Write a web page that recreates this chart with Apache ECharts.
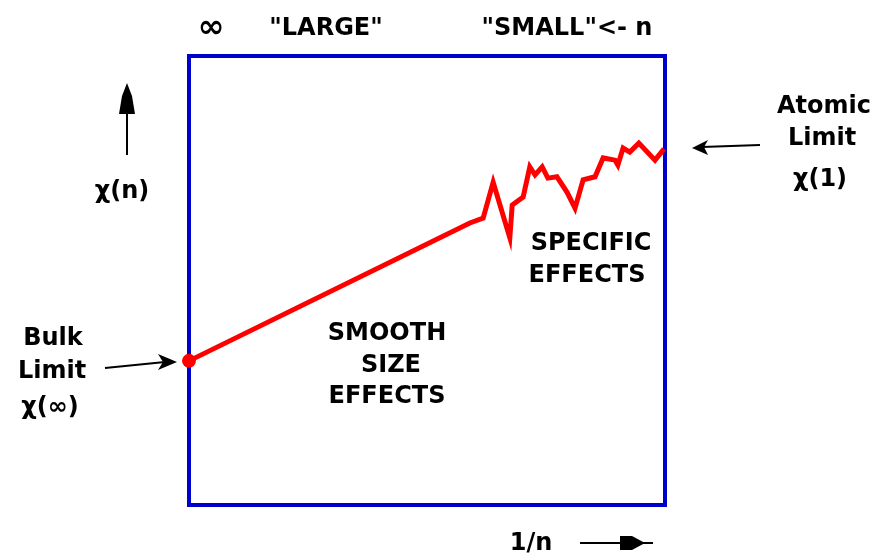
<!DOCTYPE html>
<html lang="en">
<head>
    <meta charset="UTF-8">
    <title>Size effects: bulk to atomic limit</title>
    <script src="https://cdn.jsdelivr.net/npm/echarts@6/dist/echarts.min.js"></script>
    <style>
        html,body{margin:0;padding:0;background:#fff;}
    </style>
</head>
<body>
    <div id="main" style="width:876px;height:559px;"></div>
    <script type="text/javascript">
        // 1/n (scaled 0..100) and chi(n) (scaled 0..100)
        var invN = [0, 59.0, 61.8, 63.9, 67.4, 67.9, 70.2, 71.6, 72.7, 74.2, 75.4, 77.3, 79.4, 81.1, 82.8, 85.3, 87.0, 89.5, 90.1, 91.2, 92.6, 94.5, 97.9, 99.8];
        var chi  = [32.1, 62.8, 63.9, 71.9, 59.5, 66.8, 68.6, 75.3, 73.5, 75.3, 72.8, 73.1, 69.7, 66.1, 72.4, 73.1, 77.3, 76.8, 75.7, 79.5, 78.6, 80.6, 76.8, 79.3];
        var bulkPoint = [0, 32.1];

        var BLUE = '#0000cc';
        var RED = '#ff0000';

        function label(txt, x, y, size){
            return {
                type:'text', x:x, y:y, silent:true,
                style:{text:txt, fontSize:size || 24, fontWeight:'bold', fontFamily:'"DejaVu Sans"',
                       fill:'#000', align:'center', verticalAlign:'middle',
                       textAlign:'center', textVerticalAlign:'middle'}
            };
        }
        function seg(x1, y1, x2, y2){
            return {type:'line', silent:true, shape:{x1:x1, y1:y1, x2:x2, y2:y2},
                    style:{stroke:'#000', lineWidth:2}};
        }
        function head(points){
            return {type:'polygon', silent:true, shape:{points:points}, style:{fill:'#000'}};
        }

        var lineData = [];
        for (var i = 0; i < invN.length; i++) {
            lineData.push([invN[i], chi[i]]);
        }

        var chartDom = document.getElementById('main');
        var chart = echarts.init(chartDom);
        var option = {
            backgroundColor:'#fff',
            animation:false,
            grid:{
                left:189, top:56, width:476, height:449,
                show:true, borderColor:BLUE, borderWidth:4, backgroundColor:'transparent'
            },
            xAxis:{
                type:'value', min:0, max:100,
                axisLine:{show:false}, axisTick:{show:false}, axisLabel:{show:false}, splitLine:{show:false}
            },
            yAxis:{
                type:'value', min:0, max:100,
                axisLine:{show:false}, axisTick:{show:false}, axisLabel:{show:false}, splitLine:{show:false}
            },
            series:[
                {
                    name:'chi(n)',
                    type:'line',
                    symbol:'none',
                    lineStyle:{color:RED, width:5, join:'miter'},
                    data:lineData,
                    z:3
                },
                {
                    name:'bulk limit',
                    type:'scatter',
                    symbol:'circle',
                    symbolSize:14,
                    itemStyle:{color:RED, opacity:1},
                    data:[bulkPoint],
                    z:4
                }
            ],
            graphic:[
                // top labels
                label('\u221e', 211, 29, 32),
                label('"LARGE"', 326, 29),
                label('"SMALL"<- n', 567, 29),
                // y arrow + label
                seg(127, 100, 127, 155),
                head([[127,83],[122,96],[119,114],[135,114],[132,96]]),
                label('\u03c7(n)', 122, 192),
                // bulk limit
                label('Bulk', 53, 339),
                label('Limit', 52, 372),
                label('\u03c7(\u221e)', 50, 408),
                seg(105, 368, 165, 362),
                head([[177,362],[158,354],[163,362],[158,370]]),
                // atomic limit
                label('Atomic', 824, 107),
                label('Limit', 822, 139),
                label('\u03c7(1)', 820, 180),
                seg(760, 145, 702, 147),
                head([[692,148],[708,140],[704,147],[708,155]]),
                // region labels
                label('SMOOTH', 387, 334),
                label('SIZE', 391, 366),
                label('EFFECTS', 387, 397),
                label('SPECIFIC', 591, 244),
                label('EFFECTS', 587, 276),
                // x arrow + label
                label('1/n', 531, 544),
                seg(580, 543, 653, 543),
                head([[645,543],[632,536],[620,536],[620,550],[632,550]])
            ]
        };
        if (option && typeof option === 'object') {
            chart.setOption(option, true);
        }
    </script>
</body>
</html>
